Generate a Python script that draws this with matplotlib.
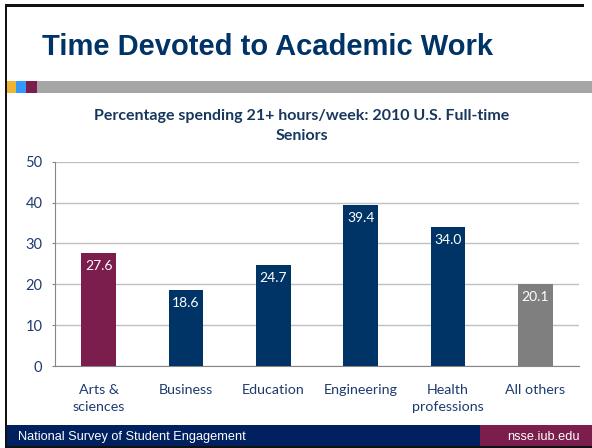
import matplotlib
matplotlib.use("Agg")
import matplotlib.pyplot as plt
from matplotlib.patches import Rectangle

# chart data
categories = ["Arts &\nsciences", "Business", "Education", "Engineering",
              "Health\nprofessions", "All others"]
values = [27.6, 18.6, 24.7, 39.4, 34.0, 20.1]
bar_colors = ["#7B1E4E", "#003466", "#003466", "#003466", "#003466", "#7F7F7F"]
y_ticks = [0, 10, 20, 30, 40, 50]

W, H = 592, 448
NAVY_TEXT = "#1F3B6E"

fig = plt.figure(figsize=(W / 100, H / 100), dpi=100)
fig.patch.set_facecolor("white")

def px(x, y):
    # pixel coords (top-left origin) -> figure fraction
    return x / W, 1 - y / H

def rect(x0, y0, x1, y1, color):
    fig.patches.append(Rectangle((x0 / W, 1 - y1 / H), (x1 - x0) / W, (y1 - y0) / H,
                                 transform=fig.transFigure, facecolor=color,
                                 edgecolor="none", zorder=1))

# slide decorations
rect(6, 81, 16, 93, "#F0B432")
rect(16, 81, 26, 93, "#3399FF")
rect(26, 81, 37, 93, "#7B1E4E")
rect(37, 81, 592, 93, "#A6A6A6")
rect(6, 425, 480, 446, "#002060")
rect(480, 425, 592, 446, "#7B1E4E")
# black slide border (left, top, bottom)
rect(5, 4, 7, 448, "#111111")
rect(5, 4, 584, 7, "#111111")
rect(5, 446, 592, 448, "#111111")

fig.text(*px(267, 47), "Time Devoted to Academic Work", ha="center", va="center",
         fontsize=21, fontweight="bold", color="#003466", family="Liberation Sans")
fig.text(*px(18, 437), "National Survey of Student Engagement", ha="left", va="center",
         fontsize=9.2, color="white", family="Liberation Sans")
fig.text(*px(580, 437), "nsse.iub.edu", ha="right", va="center",
         fontsize=9.2, color="white", family="Liberation Sans")

fig.text(*px(302, 126), "Percentage spending 21+ hours/week: 2010 U.S. Full-time\nSeniors",
         ha="center", va="center", fontsize=11.5, fontweight="bold", color="#17375E",
         family="Lato", linespacing=1.5)

# plot area
ax = fig.add_axes([55 / W, (H - 366) / H, 524 / W, (366 - 161.7) / H])
x = range(len(categories))
bars = ax.bar(x, values, width=0.4, color=bar_colors, zorder=3)
ax.set_xlim(-0.5, len(categories) - 0.5)
ax.set_ylim(0, 50)
ax.set_yticks(y_ticks)
ax.set_xticks(list(x))
ax.set_xticklabels(categories, family="Lato", fontsize=10.3, color=NAVY_TEXT, linespacing=1.45)
ax.tick_params(axis="x", length=0, pad=13)
ax.tick_params(axis="y", length=2.5, color="#868686", pad=6.5)
for lab in ax.get_yticklabels():
    lab.set_family("Lato")
    lab.set_fontsize(10.5)
    lab.set_color(NAVY_TEXT)
ax.grid(axis="y", color="#C0C0C0", linewidth=1, zorder=0)
for s in ["top", "right"]:
    ax.spines[s].set_visible(False)
for s in ["left", "bottom"]:
    ax.spines[s].set_color("#868686")

for b, v in zip(bars, values):
    ax.annotate(f"{v:.1f}", (b.get_x() + b.get_width() / 2, v), xytext=(0, -5),
                textcoords="offset points", ha="center", va="top",
                color="white", fontsize=10, family="Lato", zorder=4)

fig.savefig("out.png", dpi=100)
